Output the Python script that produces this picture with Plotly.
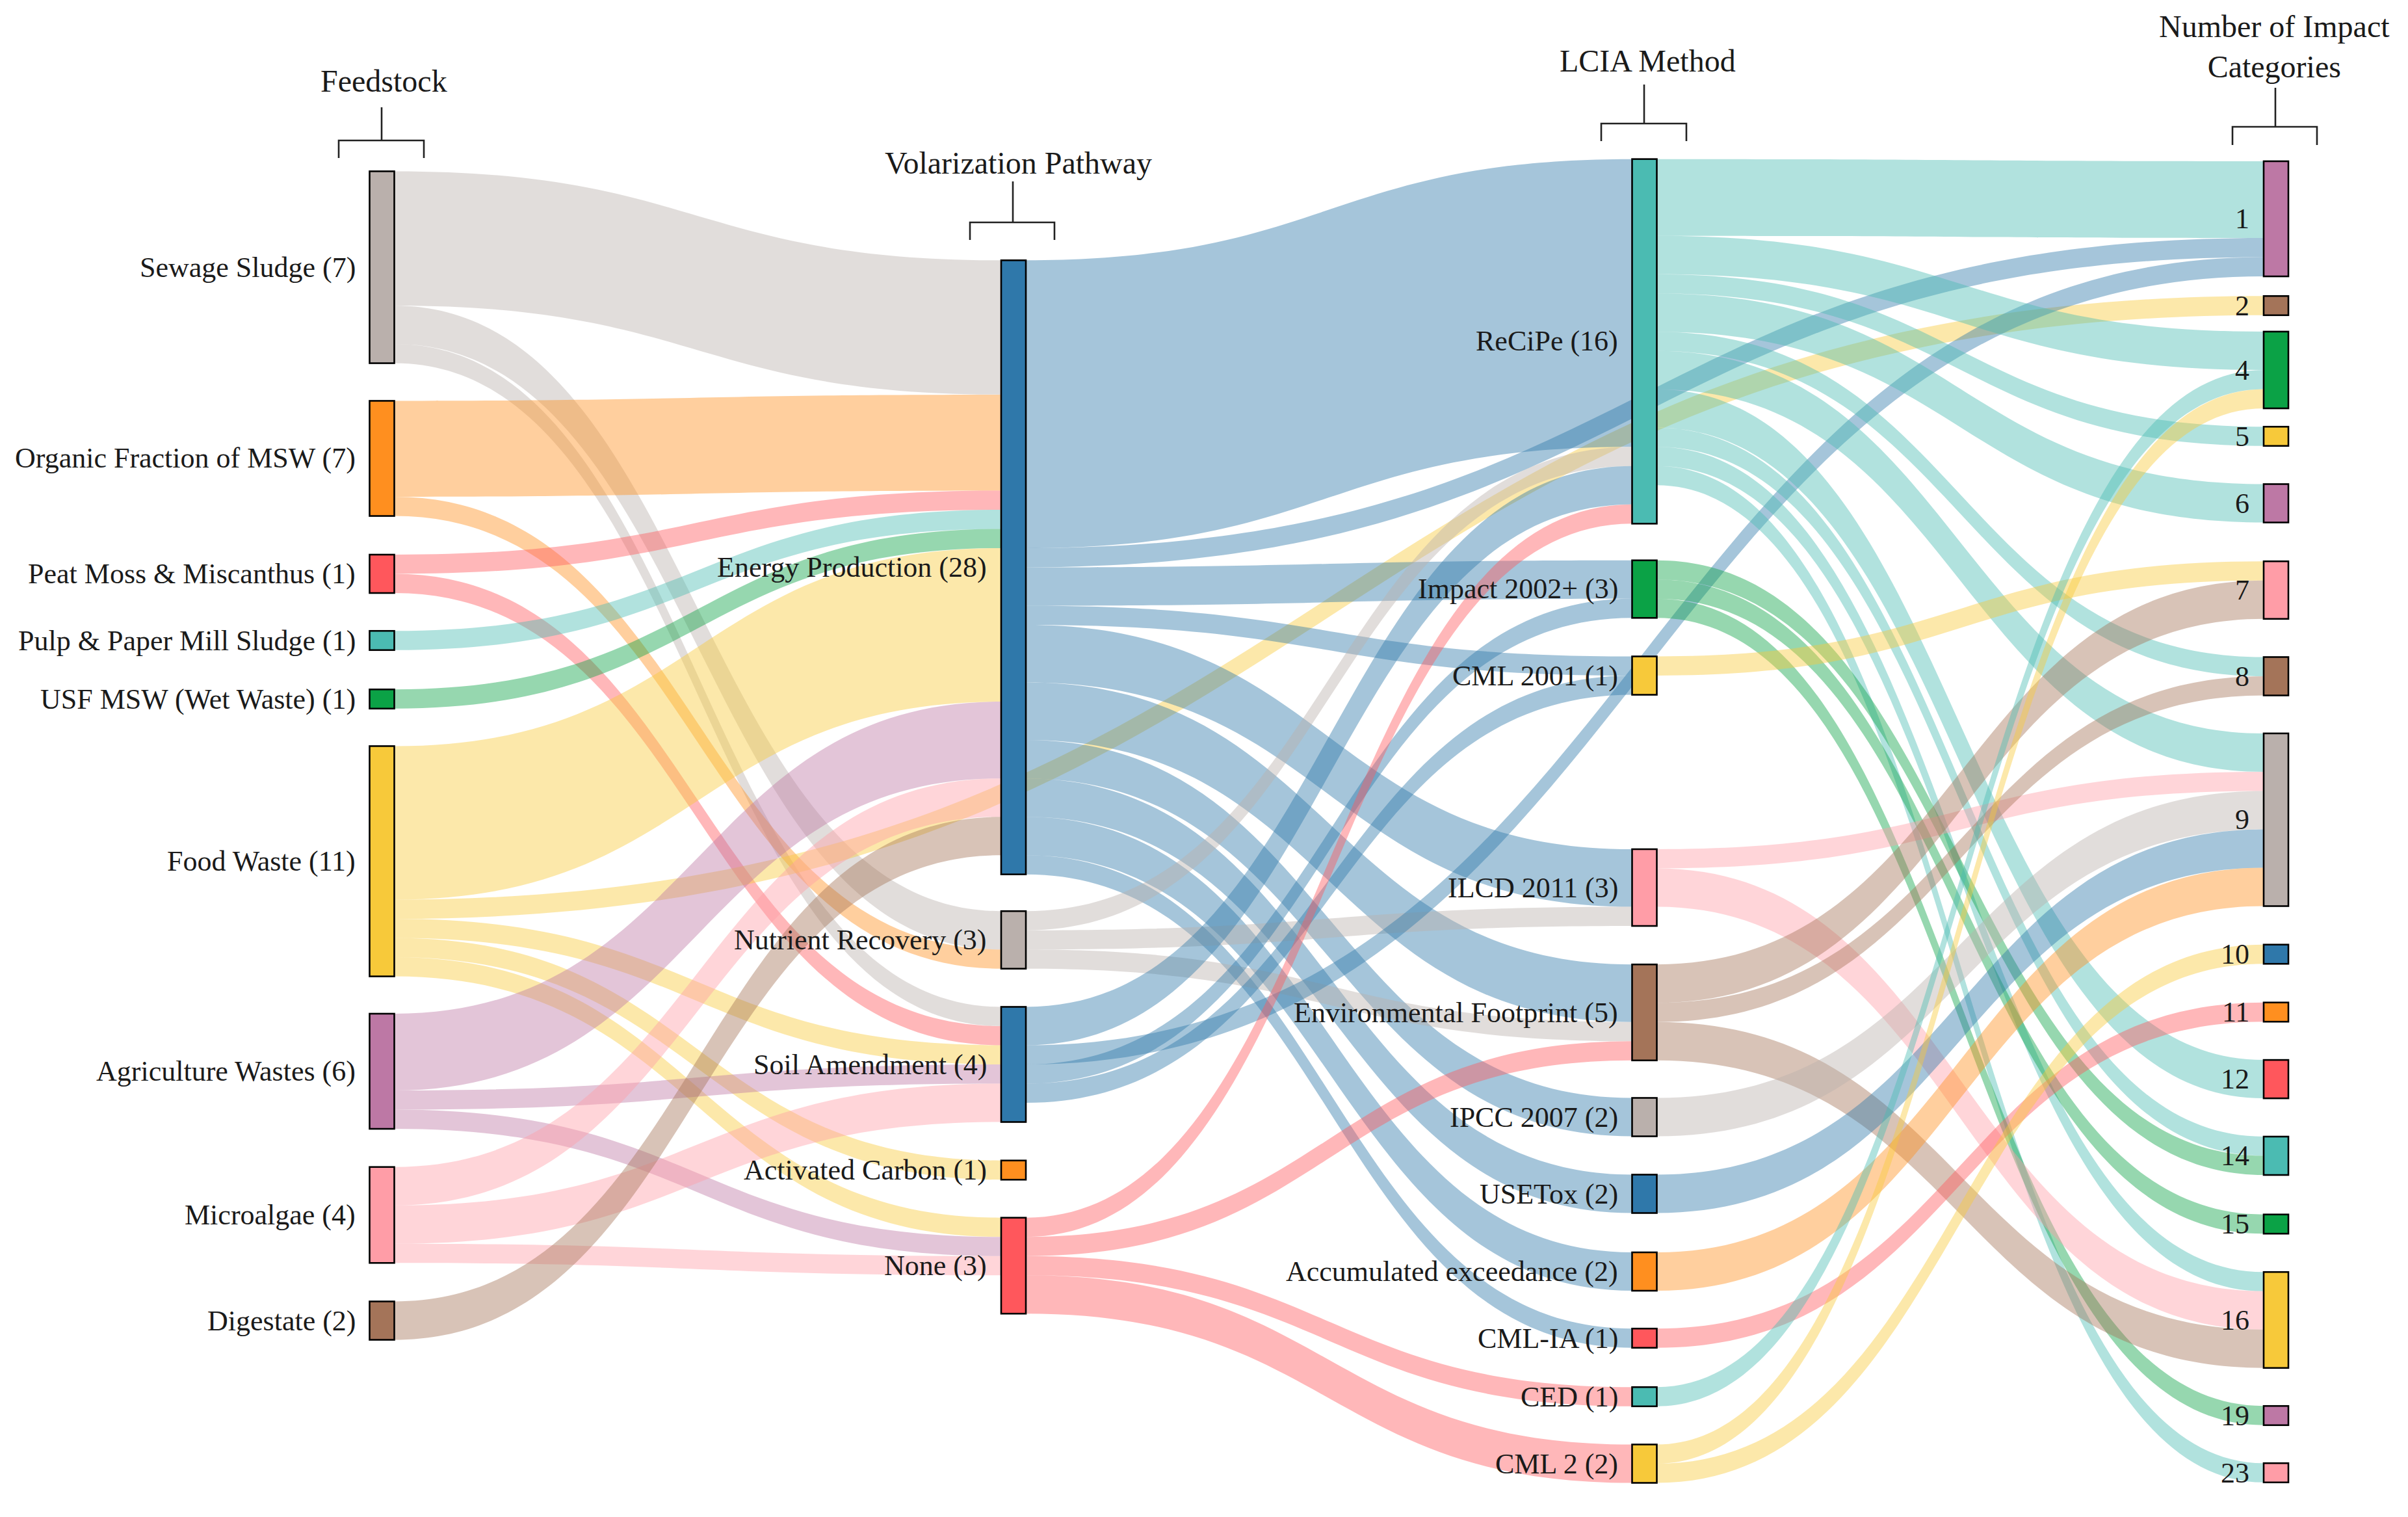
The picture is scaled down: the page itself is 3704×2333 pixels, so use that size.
import plotly.graph_objects as go

W, H = 3704, 2333

# ---------------- data ----------------
feedstock = ["Sewage Sludge (7)", "Organic Fraction of MSW (7)", "Peat Moss & Miscanthus (1)",
             "Pulp & Paper Mill Sludge (1)", "USF MSW (Wet Waste) (1)", "Food Waste (11)",
             "Agriculture Wastes (6)", "Microalgae (4)", "Digestate (2)"]
pathway = ["Energy Production (28)", "Nutrient Recovery (3)", "Soil Amendment (4)",
           "Activated Carbon (1)", "None (3)"]
lcia = ["ReCiPe (16)", "Impact 2002+ (3)", "CML 2001 (1)", "ILCD 2011 (3)",
        "Environmental Footprint (5)", "IPCC 2007 (2)", "USETox (2)",
        "Accumulated exceedance (2)", "CML-IA (1)", "CED (1)", "CML 2 (2)"]
n_categories = ["1", "2", "4", "5", "6", "7", "8", "9", "10", "11", "12", "14", "15", "16", "19", "23"]

link_source = [
    "Sewage Sludge (7)", "Sewage Sludge (7)", "Sewage Sludge (7)",
    "Organic Fraction of MSW (7)", "Organic Fraction of MSW (7)",
    "Peat Moss & Miscanthus (1)", "Peat Moss & Miscanthus (1)",
    "Pulp & Paper Mill Sludge (1)", "USF MSW (Wet Waste) (1)",
    "Food Waste (11)", "Food Waste (11)", "Food Waste (11)", "Food Waste (11)", "Food Waste (11)",
    "Agriculture Wastes (6)", "Agriculture Wastes (6)", "Agriculture Wastes (6)",
    "Microalgae (4)", "Microalgae (4)", "Microalgae (4)",
    "Digestate (2)",
    "Energy Production (28)", "Energy Production (28)", "Energy Production (28)", "Energy Production (28)",
    "Energy Production (28)", "Energy Production (28)", "Energy Production (28)", "Energy Production (28)",
    "Energy Production (28)", "Energy Production (28)",
    "Nutrient Recovery (3)", "Nutrient Recovery (3)", "Nutrient Recovery (3)",
    "Soil Amendment (4)", "Soil Amendment (4)", "Soil Amendment (4)", "Soil Amendment (4)",
    "None (3)", "None (3)", "None (3)", "None (3)",
    "ReCiPe (16)", "ReCiPe (16)", "ReCiPe (16)", "ReCiPe (16)", "ReCiPe (16)",
    "ReCiPe (16)", "ReCiPe (16)", "ReCiPe (16)", "ReCiPe (16)", "ReCiPe (16)",
    "Impact 2002+ (3)", "Impact 2002+ (3)", "Impact 2002+ (3)",
    "CML 2001 (1)",
    "ILCD 2011 (3)", "ILCD 2011 (3)",
    "Environmental Footprint (5)", "Environmental Footprint (5)", "Environmental Footprint (5)",
    "IPCC 2007 (2)", "USETox (2)", "Accumulated exceedance (2)", "CML-IA (1)", "CED (1)",
    "CML 2 (2)", "CML 2 (2)",
]
link_target = [
    "Energy Production (28)", "Nutrient Recovery (3)", "Soil Amendment (4)",
    "Energy Production (28)", "Nutrient Recovery (3)",
    "Energy Production (28)", "Soil Amendment (4)",
    "Energy Production (28)", "Energy Production (28)",
    "Energy Production (28)", "2", "Soil Amendment (4)", "Activated Carbon (1)", "None (3)",
    "Energy Production (28)", "Soil Amendment (4)", "None (3)",
    "Energy Production (28)", "Soil Amendment (4)", "None (3)",
    "Energy Production (28)",
    "ReCiPe (16)", "Impact 2002+ (3)", "1", "CML 2001 (1)",
    "ILCD 2011 (3)", "Environmental Footprint (5)", "IPCC 2007 (2)", "USETox (2)",
    "Accumulated exceedance (2)", "CML-IA (1)",
    "ReCiPe (16)", "ILCD 2011 (3)", "Environmental Footprint (5)",
    "ReCiPe (16)", "1", "Impact 2002+ (3)", "CML 2001 (1)",
    "ReCiPe (16)", "Environmental Footprint (5)", "CED (1)", "CML 2 (2)",
    "1", "4", "5", "6", "8", "9", "12", "14", "16", "23",
    "14", "15", "19",
    "7",
    "9", "16",
    "7", "8", "16",
    "9", "9", "9", "11", "4",
    "4", "10",
]
link_value = [
    7, 2, 1,
    5, 1,
    1, 1,
    1, 1,
    8, 1, 1, 1, 1,
    4, 1, 1,
    2, 2, 1,
    2,
    15, 2, 1, 1,
    3, 3, 2, 2,
    2, 1,
    1, 1, 1,
    2, 1, 1, 1,
    1, 1, 1, 2,
    4, 2, 1, 2, 1, 2, 2, 1, 1, 1,
    1, 1, 1,
    1,
    1, 2,
    2, 1, 2,
    2, 2, 2, 1, 1,
    1, 1,
]

columns = ["Feedstock", "Volarization Pathway", "LCIA Method", "Number of Impact<br>Categories"]

# ---------------- layout (pixel positions of node centres) ----------------
col_x = [587.5, 1559, 2529.5, 3501]
feed_y = [411, 705, 882.5, 985, 1075, 1324.5, 1647.5, 1868.5, 2031]
path_y = [872.5, 1445.5, 1637, 1799.5, 1946.5]
lcia_y = [525, 906, 1039, 1365, 1557, 1718, 1836, 1955.5, 2058, 2148, 2251]
num_y = [336.5, 470, 569, 671, 774, 907.5, 1040, 1260.7, 1467.5, 1556.5, 1659.6,
         1777.5, 1882.5, 2030, 2177, 2265]

PAL = {
    "grey": "#BAB0AC", "orange": "#FF8F1F", "red": "#FF575C", "teal": "#4BBBB2",
    "green": "#0BA246", "yellow": "#F7C93A", "purple": "#BD78A5", "pink": "#FF9DA7",
    "brown": "#A47459", "blue": "#2F78AA",
}
feed_c = ["grey", "orange", "red", "teal", "green", "yellow", "purple", "pink", "brown"]
path_c = ["blue", "grey", "blue", "orange", "red"]
lcia_c = ["teal", "green", "yellow", "pink", "brown", "grey", "blue", "orange", "red", "teal", "yellow"]
num_c = ["purple", "brown", "green", "yellow", "purple", "pink", "brown", "grey", "blue",
         "orange", "red", "teal", "green", "yellow", "purple", "pink"]

labels = feedstock + pathway + lcia + n_categories
xs = [col_x[0]] * len(feedstock) + [col_x[1]] * len(pathway) + [col_x[2]] * len(lcia) + [col_x[3]] * len(n_categories)
ys = feed_y + path_y + lcia_y + num_y
cnames = feed_c + path_c + lcia_c + num_c


def hex_rgb(h):
    h = h.lstrip("#")
    return tuple(int(h[i:i + 2], 16) for i in (0, 2, 4))


def rgba(h, a):
    r, g, b = hex_rgb(h)
    return f"rgba({r},{g},{b},{a})"


def darker(h, f=0.5):
    r, g, b = hex_rgb(h)
    return f"rgb({int(r * f)},{int(g * f)},{int(b * f)})"


node_colors = [PAL[c] for c in cnames]
node_lines = [darker(PAL[c], 0.45) for c in cnames]
idx = {lab: i for i, lab in enumerate(labels)}
src = [idx[s] for s in link_source]
tgt = [idx[t] for t in link_target]
link_colors = [rgba(node_colors[s], 0.43) for s in src]

THICK = 38
fig = go.Figure(go.Sankey(
    arrangement="fixed",
    node=dict(
        label=[""] * len(labels),
        customdata=labels,
        x=[x / W for x in xs],
        y=[y / H for y in ys],
        pad=66.5,
        thickness=THICK,
        color=node_colors,
        line=dict(color=node_lines, width=2.6),
        hoverinfo="none",
    ),
    link=dict(source=src, target=tgt, value=link_value, color=link_colors, hoverinfo="none"),
))

FONT = dict(family="Liberation Serif, Times New Roman, serif", size=44, color="#1a1a1a")
HFONT = dict(family="Liberation Serif, Times New Roman, serif", size=48, color="#1a1a1a")
annotations = []
for lab, x, y in zip(labels, xs, ys):
    annotations.append(dict(
        x=(x - THICK / 2 - 20) / W, y=1 - y / H, xref="paper", yref="paper",
        text=lab, showarrow=False, xanchor="right", yanchor="middle", font=FONT,
    ))

# column headers + brackets (pixel geometry)
head_xy = [(590, 125), (1566, 250), (2534, 94), (3498, 72)]
brackets = [  # stem_top, bar_y, tick_bottom, left, right, stem_x
    (165, 216, 243, 521, 652, 587),
    (279, 342, 369, 1492, 1622, 1558),
    (130, 190, 217, 2463, 2594, 2529),
    (135, 195, 223, 3434, 3564, 3500),
]
for text, (hx, hy) in zip(columns, head_xy):
    annotations.append(dict(x=hx / W, y=1 - hy / H, xref="paper", yref="paper", text=text,
                            showarrow=False, xanchor="center", yanchor="middle", font=HFONT))

shapes = []
for st, by, tb, lx, rx, sx in brackets:
    def P(x, y):
        return f"{x / W:.5f},{1 - y / H:.5f}"
    path = f"M {P(sx, st)} L {P(sx, by)} M {P(lx, tb)} L {P(lx, by)} L {P(rx, by)} L {P(rx, tb)}"
    shapes.append(dict(type="path", path=path, xref="paper", yref="paper",
                       line=dict(color="#222222", width=2.6)))

fig.update_layout(
    width=W, height=H,
    margin=dict(l=0, r=0, t=0, b=0),
    paper_bgcolor="white",
    font=FONT,
    annotations=annotations,
    shapes=shapes,
)

fig.write_html("out.html",
               config={"displayModeBar": False},
               post_script="document.body.style.margin='0';document.body.style.overflow='hidden';")
